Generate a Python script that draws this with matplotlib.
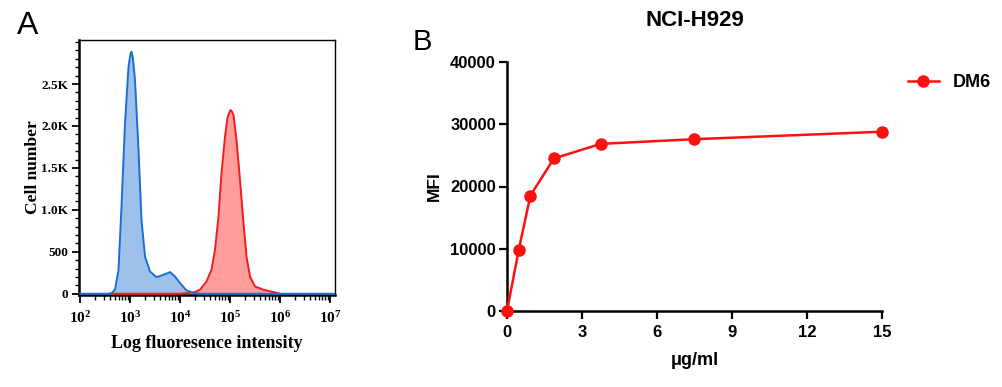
import numpy as np
import matplotlib
matplotlib.use("Agg")
import matplotlib.pyplot as plt
from matplotlib.ticker import LogLocator, FixedLocator, MultipleLocator, NullFormatter, LogFormatterMathtext

# ---------------- data ----------------
# Panel A: flow cytometry histograms (log10 intensity, cell count)
blue_log = [2.00, 2.55, 2.63, 2.70, 2.77, 2.83, 2.90, 2.97, 3.01, 3.03, 3.06, 3.10, 3.17,
            3.23, 3.30, 3.40, 3.53, 3.67, 3.80, 3.90, 4.00, 4.13, 4.27, 4.40, 7.10]
blue_count = [0, 0, 5, 50, 285, 1040, 2030, 2705, 2860, 2885, 2800, 2548, 1714,
              881, 444, 265, 198, 226, 258, 206, 127, 40, 10, 0, 0]
red_log = [2.60, 4.00, 4.27, 4.40, 4.53, 4.63, 4.70, 4.77, 4.83, 4.90, 4.95, 4.98, 5.01,
           5.04, 5.07, 5.13, 5.20, 5.27, 5.33, 5.40, 5.50, 5.67, 5.87, 6.00]
red_count = [0, 0, 15, 48, 147, 286, 524, 921, 1437, 1873, 2100, 2150, 2190,
             2170, 2131, 1833, 1357, 841, 444, 206, 87, 48, 20, 0]
a_yticks = [0, 500, 1000, 1500, 2000, 2500]
a_yticklabels = ["0", "500", "1.0K", "1.5K", "2.0K", "2.5K"]

# Panel B: dose response
conc = [0, 0.469, 0.9375, 1.875, 3.75, 7.5, 15]
mfi = [0, 9800, 18550, 24500, 26850, 27600, 28800]
b_xticks = [0, 3, 6, 9, 12, 15]
b_yticks = [0, 10000, 20000, 30000, 40000]

# ---------------- figure ----------------
fig = plt.figure(figsize=(10.03, 3.87), dpi=100)
W, H = 1003, 387

def rect(l, t, r, b):
    return [l / W, 1 - b / H, (r - l) / W, (b - t) / H]

serif = "Liberation Serif"
sans = "Liberation Sans"

# ---- Panel A ----
axA = fig.add_axes(rect(79, 40, 335, 295))
bx = 10 ** np.array(blue_log)
rx = 10 ** np.array(red_log)
axA.fill_between(bx, 0, blue_count, color="#9dc1ea", lw=0, zorder=2)
axA.fill_between(rx, 0, red_count, color="#ff9d9d", lw=0, zorder=2)
axA.plot(rx, red_count, color="#f21c1c", lw=1.4, zorder=3)
axA.plot(bx, blue_count, color="#1a6fd4", lw=1.4, zorder=4)
axA.set_xscale("log")
axA.set_xlim(10 ** 1.98, 10 ** 7.1)
axA.set_ylim(-15, 3025)
axA.xaxis.set_major_locator(LogLocator(base=10, numticks=20))
axA.xaxis.set_minor_locator(LogLocator(base=10, subs=np.arange(2, 10), numticks=50))
axA.xaxis.set_major_formatter(LogFormatterMathtext())
axA.xaxis.set_minor_formatter(NullFormatter())
axA.set_yticks(a_yticks)
axA.set_yticklabels(a_yticklabels)
axA.yaxis.set_minor_locator(MultipleLocator(100))
for s in ["left", "bottom"]:
    axA.spines[s].set_linewidth(1.8)
for s in ["top", "right"]:
    axA.spines[s].set_linewidth(1.0)
axA.tick_params(axis="both", which="major", direction="out", width=1.3, length=5)
axA.tick_params(axis="both", which="minor", direction="out", width=1.0, length=3)
axA.tick_params(axis="y", which="major", pad=3)
axA.tick_params(axis="x", which="major", pad=5, length=6)
axA.tick_params(axis="x", which="minor", length=3.5)
for lab in axA.get_yticklabels():
    lab.set_fontfamily(serif); lab.set_fontweight("bold"); lab.set_fontsize(9.5)
for lab in axA.get_xticklabels():
    lab.set_fontfamily(serif); lab.set_fontweight("bold"); lab.set_fontsize(11)
axA.set_xlabel("Log fluoresence intensity", fontfamily=serif, fontweight="bold", fontsize=13, labelpad=6)
axA.set_ylabel("Cell number", fontfamily=serif, fontweight="bold", fontsize=12.5, labelpad=0)

fig.text(28 / W, 1 - 26 / H, "A", fontfamily=sans, fontsize=23, ha="center", va="center")

# ---- Panel B ----
axB = fig.add_axes(rect(507, 62, 882, 311))
axB.plot(conc, mfi, color="#ff1010", lw=1.8, marker="o", markersize=8,
         clip_on=False, zorder=5, label="DM6")
axB.set_xlim(0, 15)
axB.set_ylim(0, 40000)
axB.set_xticks(b_xticks)
axB.set_yticks(b_yticks)
for s in ["top", "right"]:
    axB.spines[s].set_visible(False)
for s in ["left", "bottom"]:
    axB.spines[s].set_linewidth(1.8)
axB.tick_params(axis="both", direction="out", width=1.6, length=6, labelsize=12)
axB.tick_params(axis="x", pad=4)
axB.tick_params(axis="y", pad=2)
for lab in axB.get_xticklabels() + axB.get_yticklabels():
    lab.set_fontfamily(sans); lab.set_fontweight("bold")
axB.set_xlabel("\u03bcg/ml", fontfamily=sans, fontweight="bold", fontsize=13, labelpad=9)
axB.set_ylabel("MFI", fontfamily=sans, fontweight="bold", fontsize=12.5, labelpad=6)
axB.set_title("NCI-H929", fontfamily=sans, fontweight="bold", fontsize=16, pad=26)
leg = axB.legend(loc="upper left", bbox_to_anchor=(1.05, 0.98), frameon=False,
                 prop={"family": sans, "weight": "bold", "size": 13},
                 handlelength=1.7, handletextpad=0.8, borderaxespad=0)

fig.text(422 / W, 1 - 42 / H, "B", fontfamily=sans, fontsize=21, ha="center", va="center")

fig.savefig("out.png", dpi=100)
